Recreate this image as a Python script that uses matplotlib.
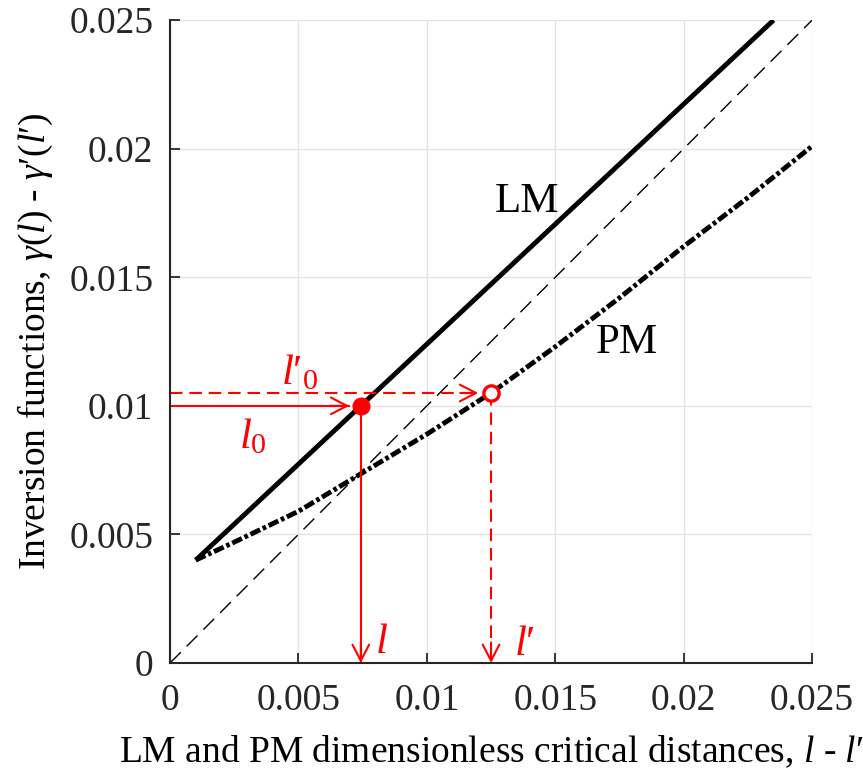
import numpy as np
import matplotlib.pyplot as plt

plt.rcParams['font.family'] = ['Liberation Serif', 'DejaVu Serif']
plt.rcParams['mathtext.fontset'] = 'custom'
plt.rcParams['mathtext.rm'] = 'Liberation Serif'
plt.rcParams['mathtext.it'] = 'Liberation Serif:italic'

# LM inversion function (straight line)
lm_x = [0.001, 0.0235]
lm_y = [0.004, 0.025]

# PM inversion function
pm_x = [0.001, 0.0025, 0.005, 0.0075, 0.01, 0.0125, 0.015, 0.0175, 0.02, 0.0225, 0.025]
pm_y = [0.0040, 0.0047, 0.0059, 0.0074, 0.0089, 0.0105, 0.0123, 0.0142, 0.0162, 0.0181, 0.0201]

# working points
l0 = 0.01
l0p = 0.0105
l_val = np.interp(l0, lm_y, lm_x)
lp_val = np.interp(l0p, pm_y, pm_x)

ticks = [0, 0.005, 0.01, 0.015, 0.02, 0.025]
tick_labels = ['0', '0.005', '0.01', '0.015', '0.02', '0.025']

fig = plt.figure(figsize=(8.63, 7.75), dpi=100)
ax = fig.add_axes([0.197, 0.1445, 0.744, 0.8295])

ax.plot([0, 0.025], [0, 0.025], color='black', lw=1.0, dashes=(11, 6))
ax.plot(lm_x, lm_y, color='black', lw=3.5, solid_capstyle='butt')
ax.plot(pm_x, pm_y, color='black', lw=3.5, dashes=(2.2, 0.6, 0.75, 0.6),
        dash_capstyle='butt')

red = '#ff0000'
head = dict(arrowstyle='->, head_length=0.58, head_width=0.3', color=red,
            lw=1.5, mutation_scale=20, shrinkA=0, shrinkB=0)
dash_red = (6, 3.3)

# l0 -> l (solid)
ax.plot([0, l_val - 0.00045], [l0, l0], color=red, lw=1.5)
ax.annotate('', xy=(l_val - 0.00045, l0), xytext=(l_val - 0.0012, l0), arrowprops=head)
ax.plot([l_val, l_val], [l0, 0], color=red, lw=1.5)
ax.annotate('', xy=(l_val, 0), xytext=(l_val, 0.0008), arrowprops=head)

# l'0 -> l' (dashed)
ax.plot([0, lp_val - 0.0005], [l0p, l0p], color=red, lw=1.5, dashes=dash_red)
ax.annotate('', xy=(lp_val - 0.0005, l0p), xytext=(lp_val - 0.0012, l0p), arrowprops=head)
ax.plot([lp_val, lp_val], [l0p, 0], color=red, lw=1.5, dashes=dash_red)
ax.annotate('', xy=(lp_val, 0), xytext=(lp_val, 0.0008), arrowprops=head)

ax.plot(l_val, l0, 'o', color=red, ms=12, zorder=5)
ax.plot(lp_val, l0p, 'o', mfc='white', mec=red, mew=2.4, ms=11, zorder=5)

ax.text(0.01389, 0.01792, 'LM', fontsize=31, ha='center', va='center')
ax.text(0.01778, 0.01244, 'PM', fontsize=31, ha='center', va='center')
ax.text(0.00506, 0.01128, r"$l′_0$", fontsize=31, color=red, ha='center', va='center')
ax.text(0.00323, 0.00879, r"$l_0$", fontsize=31, color=red, ha='center', va='center')
ax.text(0.00824, 0.00078, r"$l$", fontsize=31, color=red, ha='center', va='center')
ax.text(0.01382, 0.0007, r"$l′$", fontsize=31, color=red, ha='center', va='center')

ax.set_xlim(0, 0.025)
ax.set_ylim(0, 0.025)
ax.set_xticks(ticks)
ax.set_xticklabels(tick_labels)
ax.set_yticks(ticks)
ax.set_yticklabels(tick_labels)
ax.grid(True, color='#e3e3e3', lw=1.0)
ax.set_axisbelow(True)
for side in ['top', 'right']:
    ax.spines[side].set_visible(False)
for side in ['left', 'bottom']:
    ax.spines[side].set_color('#262626')
    ax.spines[side].set_linewidth(1.5)
ax.tick_params(direction='in', length=7, width=1.3, colors='#262626',
               labelsize=27)
ax.tick_params(axis='x', pad=15)
ax.tick_params(axis='y', pad=12)

ax.set_xlabel(r"LM and PM dimensionless critical distances, $l$ - $l′$",
              fontsize=27, labelpad=11)
ax.set_ylabel(r"Inversion functions, $\gamma(l)$ - $\gamma′(l′)$",
              fontsize=27, labelpad=10)

fig.savefig('out.png', dpi=100)
